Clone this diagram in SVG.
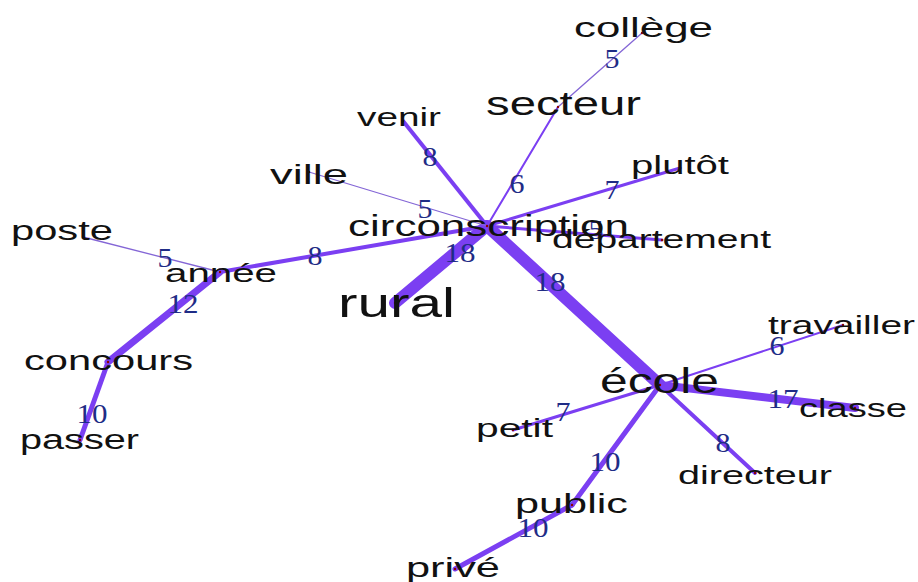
<svg xmlns="http://www.w3.org/2000/svg" width="918" height="582" viewBox="0 0 918 582">
<style>
.e{stroke:#7b3ff2;stroke-linecap:round;fill:none}
.thin{stroke:#8466d6}
.w{font-family:"Liberation Serif",serif;font-size:28px;fill:#1f2c86;text-anchor:middle}
.n{font-family:"Liberation Sans",Arial,sans-serif;fill:#111}
.v{fill:#8b0000}
</style>
<rect width="918" height="582" fill="#fff"/>
<g id="connectors">
<line class="e" x1="487" y1="226" x2="660" y2="385" stroke-width="12"/>
<line class="e" x1="487" y1="226" x2="395" y2="303" stroke-width="12"/>
<line class="e" x1="660" y1="385" x2="855" y2="408" stroke-width="8"/>
<line class="e" x1="220" y1="272" x2="108" y2="362" stroke-width="7"/>
<line class="e" x1="108" y1="362" x2="80" y2="440" stroke-width="5"/>
<line class="e" x1="660" y1="385" x2="572" y2="505" stroke-width="5"/>
<line class="e" x1="572" y1="505" x2="455" y2="569" stroke-width="5"/>
<line class="e" x1="487" y1="226" x2="403" y2="121" stroke-width="4"/>
<line class="e" x1="487" y1="226" x2="220" y2="272" stroke-width="4"/>
<line class="e" x1="660" y1="385" x2="755" y2="473" stroke-width="4"/>
<line class="e" x1="487" y1="226" x2="680" y2="168" stroke-width="3"/>
<line class="e" x1="660" y1="385" x2="513" y2="430" stroke-width="3"/>
<line class="e" x1="487" y1="226" x2="662" y2="240" stroke-width="3"/>
<line class="e" x1="487" y1="226" x2="558" y2="107" stroke-width="2"/>
<line class="e" x1="660" y1="385" x2="843" y2="325" stroke-width="2"/>
<line class="e thin" x1="558" y1="107" x2="642" y2="33" stroke-width="1.3"/>
<line class="e thin" x1="487" y1="226" x2="309" y2="172" stroke-width="1.3"/>
<line class="e thin" x1="220" y1="272" x2="83" y2="237" stroke-width="1.3"/>
</g>
<g id="edge-labels">
<text class="w" x="612" y="68" textLength="15" lengthAdjust="spacingAndGlyphs">5</text>
<text class="w" x="517" y="193" textLength="15" lengthAdjust="spacingAndGlyphs">6</text>
<text class="w" x="430" y="166" textLength="15" lengthAdjust="spacingAndGlyphs">8</text>
<text class="w" x="425" y="218" textLength="15" lengthAdjust="spacingAndGlyphs">5</text>
<text class="w" x="612" y="199" textLength="15" lengthAdjust="spacingAndGlyphs">7</text>
<text class="w" x="596" y="239" textLength="15" lengthAdjust="spacingAndGlyphs">5</text>
<text class="w" x="460" y="262" textLength="31" lengthAdjust="spacingAndGlyphs">18</text>
<text class="w" x="550" y="291" textLength="31" lengthAdjust="spacingAndGlyphs">18</text>
<text class="w" x="315" y="265" textLength="15" lengthAdjust="spacingAndGlyphs">8</text>
<text class="w" x="165" y="267" textLength="15" lengthAdjust="spacingAndGlyphs">5</text>
<text class="w" x="183" y="313" textLength="31" lengthAdjust="spacingAndGlyphs">12</text>
<text class="w" x="92" y="423" textLength="31" lengthAdjust="spacingAndGlyphs">10</text>
<text class="w" x="777" y="355" textLength="15" lengthAdjust="spacingAndGlyphs">6</text>
<text class="w" x="783" y="408" textLength="31" lengthAdjust="spacingAndGlyphs">17</text>
<text class="w" x="563" y="421" textLength="15" lengthAdjust="spacingAndGlyphs">7</text>
<text class="w" x="723" y="452" textLength="15" lengthAdjust="spacingAndGlyphs">8</text>
<text class="w" x="605" y="471" textLength="31" lengthAdjust="spacingAndGlyphs">10</text>
<text class="w" x="533" y="537" textLength="31" lengthAdjust="spacingAndGlyphs">10</text>
</g>
<g id="node-circonscription"><circle class="v" cx="487" cy="226" r="1.2"/><text class="n" x="348" y="236" font-size="29" textLength="281" lengthAdjust="spacingAndGlyphs">circonscription</text></g>
<g id="node-ecole"><circle class="v" cx="660" cy="385" r="1.2"/><text class="n" x="600" y="393" font-size="35" textLength="119" lengthAdjust="spacingAndGlyphs">école</text></g>
<g id="node-rural"><circle class="v" cx="395" cy="303" r="1.2"/><text class="n" x="338" y="317" font-size="40" textLength="117" lengthAdjust="spacingAndGlyphs">rural</text></g>
<g id="node-secteur"><circle class="v" cx="558" cy="107" r="1.2"/><text class="n" x="486" y="115" font-size="34" textLength="155" lengthAdjust="spacingAndGlyphs">secteur</text></g>
<g id="node-college"><circle class="v" cx="642" cy="33" r="1.2"/><text class="n" x="574" y="37" font-size="28" textLength="139" lengthAdjust="spacingAndGlyphs">collège</text></g>
<g id="node-venir"><circle class="v" cx="403" cy="121" r="1.2"/><text class="n" x="357" y="126" font-size="25" textLength="84" lengthAdjust="spacingAndGlyphs">venir</text></g>
<g id="node-ville"><circle class="v" cx="309" cy="172" r="1.2"/><text class="n" x="270" y="184" font-size="28" textLength="78" lengthAdjust="spacingAndGlyphs">ville</text></g>
<g id="node-plutot"><circle class="v" cx="680" cy="168" r="1.2"/><text class="n" x="631" y="174" font-size="26" textLength="98" lengthAdjust="spacingAndGlyphs">plutôt</text></g>
<g id="node-departement"><circle class="v" cx="662" cy="240" r="1.2"/><text class="n" x="552" y="248" font-size="26" textLength="219" lengthAdjust="spacingAndGlyphs">département</text></g>
<g id="node-poste"><circle class="v" cx="83" cy="237" r="1.2"/><text class="n" x="11" y="240" font-size="27" textLength="102" lengthAdjust="spacingAndGlyphs">poste</text></g>
<g id="node-annee"><circle class="v" cx="220" cy="272" r="1.2"/><text class="n" x="165" y="282" font-size="26" textLength="112" lengthAdjust="spacingAndGlyphs">année</text></g>
<g id="node-concours"><circle class="v" cx="108" cy="362" r="1.2"/><text class="n" x="24" y="370" font-size="27" textLength="169" lengthAdjust="spacingAndGlyphs">concours</text></g>
<g id="node-passer"><circle class="v" cx="80" cy="440" r="1.2"/><text class="n" x="20" y="449" font-size="27" textLength="119" lengthAdjust="spacingAndGlyphs">passer</text></g>
<g id="node-travailler"><circle class="v" cx="843" cy="325" r="1.2"/><text class="n" x="768" y="334" font-size="26" textLength="147" lengthAdjust="spacingAndGlyphs">travailler</text></g>
<g id="node-classe"><circle class="v" cx="855" cy="408" r="1.2"/><text class="n" x="799" y="417" font-size="26" textLength="108" lengthAdjust="spacingAndGlyphs">classe</text></g>
<g id="node-petit"><circle class="v" cx="513" cy="430" r="1.2"/><text class="n" x="476" y="437" font-size="26" textLength="77" lengthAdjust="spacingAndGlyphs">petit</text></g>
<g id="node-directeur"><circle class="v" cx="755" cy="473" r="1.2"/><text class="n" x="678" y="484" font-size="26" textLength="154" lengthAdjust="spacingAndGlyphs">directeur</text></g>
<g id="node-public"><circle class="v" cx="572" cy="505" r="1.2"/><text class="n" x="515" y="513" font-size="27" textLength="113" lengthAdjust="spacingAndGlyphs">public</text></g>
<g id="node-prive"><circle class="v" cx="455" cy="569" r="1.2"/><text class="n" x="406" y="577" font-size="27" textLength="94" lengthAdjust="spacingAndGlyphs">privé</text></g>
</svg>
